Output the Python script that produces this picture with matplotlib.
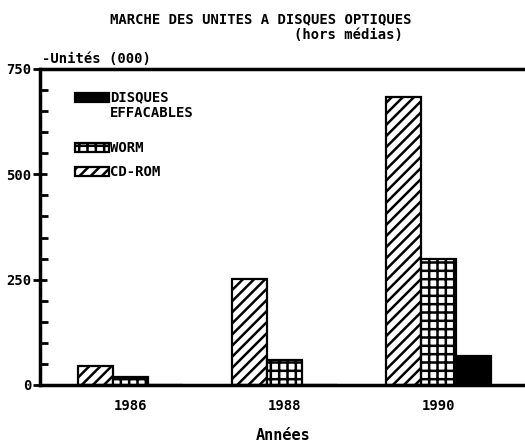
import matplotlib
matplotlib.use('Agg')
import matplotlib.pyplot as plt
from matplotlib.patches import Rectangle
from matplotlib.ticker import MultipleLocator, FixedLocator

years = [1986, 1988, 1990]
year_labels = ['1986', '1988', '1990']
cd_rom = [44, 252, 683]
worm = [18, 60, 298]
disques_effacables = [0, 0, 70]
series_labels = ['DISQUES\nEFFACABLES', 'WORM', 'CD-ROM']
y_ticks = [0, 250, 500, 750]

FONT = 'DejaVu Sans Mono'
plt.rcParams['font.family'] = FONT
plt.rcParams['font.weight'] = 'bold'
plt.rcParams['hatch.linewidth'] = 1.8

W, H = 525, 446
fig = plt.figure(figsize=(W / 100, H / 100), dpi=100)
ax = fig.add_axes([40/W, 1-385/H, 500/W, 316/H])

px_per_year = 77.0
w = 35 / px_per_year
x0 = 1986 - 90 / px_per_year
ax.set_xlim(x0, x0 + 500 / px_per_year)
ax.set_ylim(0, 750)

styles = [dict(facecolor='black', hatch=None),
          dict(facecolor='white', hatch='++'),
          dict(facecolor='white', hatch='///')]

ax.bar([y - w for y in years], cd_rom, width=w, edgecolor='black',
       linewidth=1.6, zorder=2, **styles[2])
ax.bar(years, worm, width=w, edgecolor='black', linewidth=1.6, zorder=2,
       **styles[1])
ax.bar([y + w for y in years], disques_effacables, width=w,
       edgecolor='black', linewidth=1.6, zorder=2, **styles[0])

for s in ['left', 'bottom', 'top']:
    ax.spines[s].set_linewidth(2.5)
ax.spines['right'].set_visible(False)

ax.yaxis.set_major_locator(FixedLocator(y_ticks))
ax.yaxis.set_minor_locator(MultipleLocator(50))
ax.tick_params(axis='y', which='major', direction='inout', length=10, width=2,
               labelsize=10, pad=1)
ax.tick_params(axis='y', which='minor', direction='in', length=6, width=2)
ax.set_yticklabels([str(v) for v in y_ticks], fontweight='bold')

ax.set_xticks(years)
ax.set_xticklabels(year_labels, fontweight='bold', fontsize=10)
ax.tick_params(axis='x', length=0, pad=10)

ax.set_xlabel('Années', fontsize=11, fontweight='bold')
ax.xaxis.set_label_coords((283 - 40) / 500, -(428 - 385) / 316)

fig.text(261/W, 1-19/H, 'MARCHE DES UNITES A DISQUES OPTIQUES',
         ha='center', va='center', fontsize=10, fontweight='bold')
fig.text(348/W, 1-35/H, '(hors médias)',
         ha='center', va='center', fontsize=10, fontweight='bold')
fig.text(42/W, 1-59/H, '-Unités (000)', ha='left', va='center',
         fontsize=10, fontweight='bold')

# legend drawn as patches + text (figure pixel layout)
leg_boxes = [(93, 102), (143, 152), (167, 176)]
leg_text_y = [105, 148, 172]
for (ytop, ybot), ty, lab, st in zip(leg_boxes, leg_text_y, series_labels, styles):
    r = Rectangle((75/W, 1-ybot/H), 34/W, (ybot-ytop)/H,
                  transform=fig.transFigure, edgecolor='black', linewidth=1.6,
                  **st)
    fig.add_artist(r)
    fig.text(110/W, 1-ty/H, lab, ha='left', va='center', fontsize=10,
             fontweight='bold', linespacing=1.2)

fig.savefig('out.png', dpi=100, facecolor='white')
